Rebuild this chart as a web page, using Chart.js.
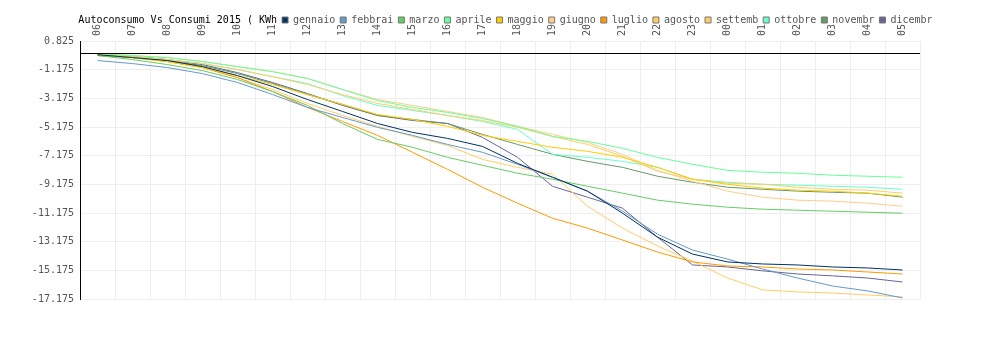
<!DOCTYPE html>
<html>
<head>
<meta charset="utf-8">
<script src="https://cdn.jsdelivr.net/npm/chart.js@4/dist/chart.umd.min.js"></script>
<style>
    html, body { margin: 0; padding: 0; background: #fff; }
    #wrap { width: 1000px; height: 340px; }
</style>
</head>
<body>
<div id="wrap"><canvas id="chart" width="1000" height="340"></canvas></div>
<script>
// Chart data (cumulative KWh, one point per hour)
const chartTitle = 'Autoconsumo Vs Consumi 2015 ( KWh';
const hours = ['06','07','08','09','10','11','12','13','14','15','16','17',
               '18','19','20','21','22','23','00','01','02','03','04','05'];
const yTicks = [0.825, -1.175, -3.175, -5.175, -7.175, -9.175, -11.175, -13.175, -15.175, -17.175];

const months = ['gennaio','febbrai','marzo','aprile','maggio','giugno',
                'luglio','agosto','settemb','ottobre','novembr','dicembr'];
const monthColors = ['#003366','#6699cc','#66cc66','#66ff99','#ffcc00','#ffcc88',
                     '#ff9900','#ffcc66','#ffcc66','#66ffcc','#669966','#666699'];

const gennaio = [-0.13,-0.33,-0.54,-0.96,-1.59,-2.35,-3.26,-4.09,-4.93,-5.55,-5.97,-6.53,-7.71,-8.68,-9.65,-11.19,-12.86,-14.04,-14.59,-14.73,-14.80,-14.94,-15.01,-15.15];
const febbrai = [-0.54,-0.75,-1.03,-1.45,-2.07,-2.91,-3.81,-4.51,-5.20,-5.76,-6.39,-6.94,-7.78,-8.68,-9.65,-11.05,-12.65,-13.76,-14.39,-15.08,-15.71,-16.27,-16.61,-17.10];
const marzo   = [-0.19,-0.47,-0.82,-1.24,-1.86,-2.70,-3.67,-4.93,-6.04,-6.59,-7.29,-7.85,-8.40,-8.82,-9.31,-9.79,-10.28,-10.56,-10.77,-10.91,-10.98,-11.05,-11.12,-11.19];
const aprile  = [-0.06,-0.19,-0.33,-0.61,-0.96,-1.31,-1.79,-2.56,-3.33,-3.81,-4.16,-4.58,-5.13,-5.83,-6.18,-6.66,-7.29,-7.78,-8.20,-8.33,-8.40,-8.54,-8.61,-8.68];
const maggio  = [-0.13,-0.33,-0.61,-1.03,-1.59,-2.21,-2.91,-3.60,-4.30,-4.65,-5.13,-5.76,-6.18,-6.59,-6.87,-7.29,-7.99,-8.82,-9.17,-9.44,-9.58,-9.65,-9.79,-10.00];
const giugno  = [-0.06,-0.19,-0.33,-0.61,-0.96,-1.31,-1.79,-2.56,-3.26,-3.67,-4.09,-4.51,-5.13,-5.69,-6.25,-7.08,-8.20,-8.96,-9.65,-10.07,-10.28,-10.35,-10.49,-10.70];
const luglio  = [-0.13,-0.33,-0.61,-1.03,-1.73,-2.70,-3.81,-4.79,-5.76,-6.94,-8.13,-9.38,-10.49,-11.54,-12.23,-13.06,-13.90,-14.59,-14.87,-14.94,-15.08,-15.15,-15.29,-15.43];
const agosto  = [-0.13,-0.33,-0.61,-1.03,-1.73,-2.56,-3.53,-4.37,-5.13,-5.83,-6.46,-7.43,-7.99,-8.47,-10.70,-12.23,-13.48,-14.53,-15.71,-16.54,-16.68,-16.76,-16.89,-17.03];
const settemb = [-0.13,-0.26,-0.47,-0.75,-1.17,-1.66,-2.21,-2.91,-3.53,-3.95,-4.37,-4.72,-5.20,-5.83,-6.39,-7.22,-8.26,-8.82,-9.10,-9.17,-9.38,-9.52,-9.58,-9.79];
const ottobre = [-0.13,-0.26,-0.47,-0.75,-1.17,-1.66,-2.14,-2.98,-3.67,-4.02,-4.37,-4.79,-5.34,-7.08,-7.29,-7.57,-7.99,-8.82,-9.03,-9.17,-9.24,-9.31,-9.38,-9.52];
const novembr = [-0.19,-0.33,-0.54,-0.89,-1.45,-2.14,-2.91,-3.60,-4.37,-4.65,-4.93,-5.69,-6.39,-7.08,-7.57,-7.99,-8.61,-9.03,-9.38,-9.52,-9.65,-9.73,-9.79,-10.07];
const dicembr = [-0.13,-0.26,-0.47,-0.82,-1.38,-2.07,-2.84,-3.67,-4.37,-4.72,-4.93,-5.90,-7.29,-9.31,-10.07,-10.84,-12.86,-14.80,-14.94,-15.21,-15.43,-15.56,-15.71,-15.99];

const monthValues = [gennaio, febbrai, marzo, aprile, maggio, giugno,
                     luglio, agosto, settemb, ottobre, novembr, dicembr];

const monoFont = "'DejaVu Sans Mono', monospace";

// black line at y = 0
const zeroLine = {
    id: 'zeroLine',
    afterDatasetsDraw(chart) {
        const ctx = chart.ctx;
        const area = chart.chartArea;
        const y = Math.round(chart.scales.y.getPixelForValue(0)) + 0.5;
        ctx.save();
        ctx.strokeStyle = '#000';
        ctx.lineWidth = 1;
        ctx.beginPath();
        ctx.moveTo(area.left, y);
        ctx.lineTo(area.right, y);
        ctx.stroke();
        ctx.restore();
    }
};

// legend row a bit right of centre; hour labels allowed to run up under it
const headerLayout = {
    id: 'headerLayout',
    afterLayout(chart) {
        chart.legend.left += 40;
        chart.legend.right += 40;
        chart.scales.x.top = 18;
    }
};

function buildDatasets() {
    return months.map(function(name, i) {
        return {
            label: name,
            data: monthValues[i],
            borderColor: monthColors[i],
            backgroundColor: monthColors[i],
            borderWidth: 1,
            pointRadius: 0,
            tension: 0
        };
    });
}

// title sits inline, in front of the legend items
function legendLabels(chart) {
    const items = Chart.defaults.plugins.legend.labels.generateLabels(chart);
    items.forEach(function(item) {
        item.strokeStyle = '#777';
        item.lineWidth = 1;
        item.fontColor = '#555';
    });
    items.unshift({
        text: chartTitle,
        fillStyle: 'rgba(0,0,0,0)',
        strokeStyle: 'rgba(0,0,0,0)',
        lineWidth: 0,
        fontColor: '#000',
        hidden: false
    });
    return items;
}

new Chart(document.getElementById('chart').getContext('2d'), {
    type: 'line',
    data: {
        labels: hours,
        datasets: buildDatasets()
    },
    plugins: [zeroLine, headerLayout],
    options: {
        responsive: false,
        animation: false,
        layout: { padding: { top: 10, right: 80, bottom: 41, left: 0 } },
        plugins: {
            tooltip: { enabled: false },
            title: { display: false },
            legend: {
                position: 'top',
                onClick: null,
                labels: {
                    boxWidth: 6,
                    boxHeight: 6,
                    padding: 5,
                    color: '#555',
                    font: { family: monoFont, size: 10 },
                    generateLabels: legendLabels
                }
            }
        },
        scales: {
            x: {
                position: 'top',
                offset: true,
                afterFit: function(scale) { scale.height = 6; },
                grid: { color: '#eeeeee', offset: true, drawTicks: false },
                border: { color: '#eeeeee' },
                ticks: {
                    autoSkip: false,
                    minRotation: 90,
                    maxRotation: 90,
                    padding: 5,
                    labelOffset: 12,
                    color: '#555',
                    font: { family: monoFont, size: 10 }
                }
            },
            y: {
                min: -17.175,
                max: 0.825,
                afterFit: function(scale) { scale.width = 80; },
                afterBuildTicks: function(scale) {
                    scale.ticks = yTicks.map(function(v) { return { value: v }; });
                },
                grid: { color: '#eeeeee', drawTicks: false },
                border: { color: '#000' },
                ticks: {
                    padding: 6,
                    color: '#555',
                    font: { family: monoFont, size: 10 },
                    callback: function(value) { return value.toFixed(3); }
                }
            }
        }
    }
});
</script>
</body>
</html>
